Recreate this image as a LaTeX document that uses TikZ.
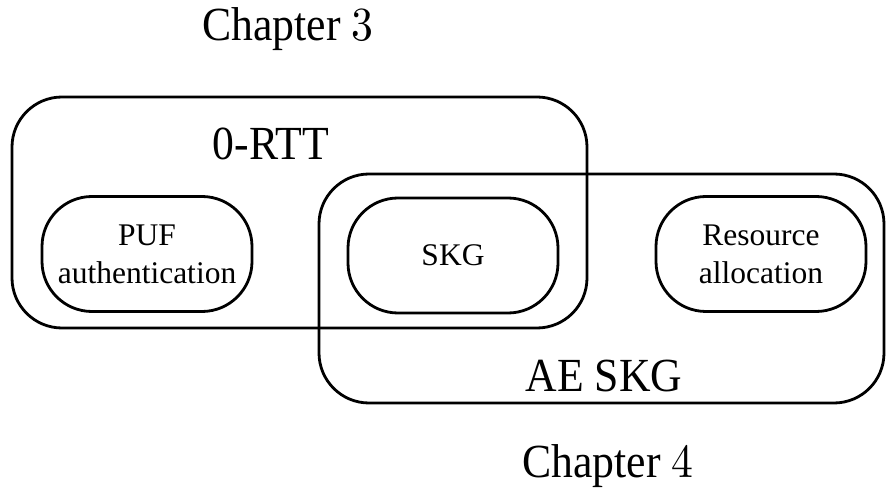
\documentclass[tikz,border=0pt]{standalone}
\usepackage{fontspec}
\setmainfont{Liberation Serif}
% slightly condensed faces for the large labels
\newfontfamily\labelfont[FakeStretch=0.92]{Liberation Serif}
\newfontfamily\labeldigit[Extension=.otf,FakeStretch=0.92]{lmroman10-regular}
\begin{document}
\begin{tikzpicture}[x=1pt,y=-1pt,
  group/.style={draw, line width=2.8pt, rounded corners=50pt, inner sep=0pt},
  item/.style={draw, line width=2.8pt, rounded corners=50pt, minimum width=210pt,
    minimum height=115pt, align=center, inner sep=0pt,
    font=\fontsize{31.5}{38}\selectfont},
  biglabel/.style={inner sep=0pt, font=\labelfont\fontsize{47.5}{54}\selectfont}]
\useasboundingbox (0,0) rectangle (886,494);

% the two overlapping groups
\node[group, minimum width=575pt, minimum height=231pt] (rtt) at (299.5,212.5) {};
\node[group, minimum width=565pt, minimum height=229pt] (ae) at (601.5,288.5) {};

% blocks inside the groups
\node[item] (puf) at (147,254) {PUF\\authentication};
\node[item] (skg) at (453,255.5) {SKG};
\node[item] (res) at (761,254) {Resource\\allocation};

% group and chapter labels
\node[biglabel] (rttlabel) at (271,144) {0-RTT};
\node[biglabel] (aelabel) at (604,376) {AE SKG};
\node[biglabel] (ch3) at (288,29) {Chapter {\labeldigit 3}};
\node[biglabel] (ch4) at (608,466) {Chapter {\labeldigit 4}};
\end{tikzpicture}
\end{document}
